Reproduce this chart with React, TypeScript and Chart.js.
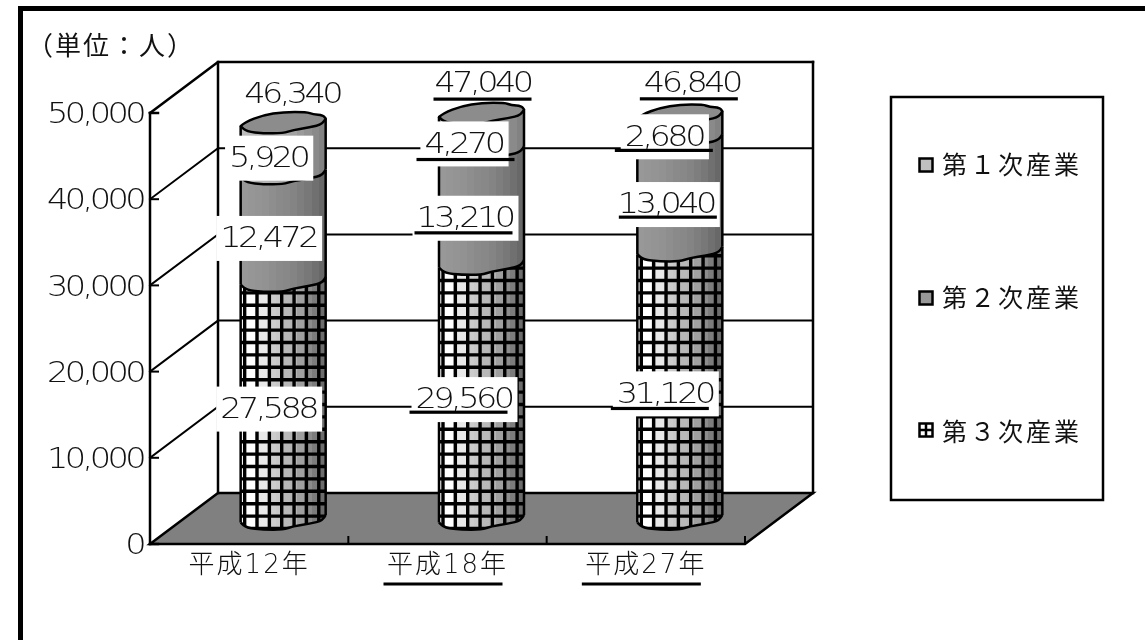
import React, { useEffect, useRef } from "react";
import { Chart, registerables } from "chart.js";

Chart.register(...registerables);

// ---- chart content ----
const categories = ["平成12年", "平成18年", "平成27年"];
const tertiaryValues = [27588, 29560, 31120];
const secondaryValues = [12472, 13210, 13040];
const primaryValues = [5920, 4270, 2680];
const totalLabels = [46340, 47040, 46840];
const tertiaryName = "第３次産業";
const secondaryName = "第２次産業";
const primaryName = "第１次産業";
const unitLabel = "（単位：人）";
const yMax = 50000;
const yStep = 10000;
const underlinedCategories = [false, true, true];

// ---- drawing style ----
const WIDTH = 1145;
const HEIGHT = 640;
const DEPTH_X = 68;
const DEPTH_Y = 51;
const INK = "#111111";
const NUM_FONT = '200 28px "DejaVu Sans Light", "DejaVu Sans", "Noto Sans CJK JP"';
const CAT_FONT_FAMILY = '"DejaVu Sans Light", "DejaVu Sans", "Noto Sans CJK JP"';
const JP_FONT = '"Noto Sans CJK JP", "DejaVu Sans"';
const NUM_STRETCH = 1.2;
const NUM_TRACKING = "-3px";
const NUM_DROP = 3;

// Shading strips of each stack layer, left to right across the cylinder
const tertiaryStrips = ["#ffffff", "#ffffff", "#e8e8e8", "#e8e8e8", "#cccccc", "#c8c8c8", "#b8b8b8", "#b4b4b4", "#a0a0a0", "#8c8c8c", "#7c7c7c", "#6c6c6c"];
const secondaryStrips = ["#989898", "#969696", "#949494", "#929292", "#8e8e8e", "#8a8a8a", "#888888", "#848484", "#7e7e7e", "#787878", "#707070", "#686868"];
const primaryStrips = ["#bcbcbc", "#bababa", "#b6b6b6", "#b4b4b4", "#b0b0b0", "#acacac", "#a8a8a8", "#a2a2a2", "#9a9a9a", "#929292", "#8a8a8a", "#828282"];

// Hand-drawn outline of a cylinder section: unit coordinates around its centre
const outlineUpper: [number, number][] = [[-1, 0.38], [-0.9, 0], [-0.47, -0.66], [0, -0.97], [0.55, -0.97], [0.7, -0.75], [0.94, -0.66], [1, -0.34]];
const outlineLower: [number, number][] = [[1, -0.34], [0.94, 0.19], [0.625, 0.5], [0.23, 0.75], [0, 1.06], [-0.47, 1.06], [-0.86, 0.9], [-1, 0.38]];
const SECTION_RY = 10.5;

// Value label placement relative to its segment: [text dx, text dy, underline dx, underline dy]
const tertiaryLabelPlace = [[-15, 8, null, null], [-18, 7, -5, 14], [-15, 8, -5, 16]];
const secondaryLabelPlace = [[-15, 10, null, null], [-17, 10, -1, 16], [-14, 9, 2, 14]];
const primaryLabelPlace = [[-15, 9, null, null], [-18, 11, 2, 17], [-16, 9, 0, 15]];
const totalLabelPlace = [[9, -29, null, null], [1, -31, 0, 17], [12, -33, -3, 17]];
const UNDERLINE_W = 98;

const fmt = (v: number) => v.toLocaleString("en-US");

function curve(ctx: CanvasRenderingContext2D, pts: [number, number][]) {
  ctx.lineTo(pts[0][0], pts[0][1]);
  for (let i = 1; i < pts.length - 1; i++) {
    const mx = (pts[i][0] + pts[i + 1][0]) / 2;
    const my = (pts[i][1] + pts[i + 1][1]) / 2;
    ctx.quadraticCurveTo(pts[i][0], pts[i][1], mx, my);
  }
  const last = pts[pts.length - 1];
  ctx.lineTo(last[0], last[1]);
}

const place = (unit: [number, number][], cx: number, cy: number, rx: number) =>
  unit.map(([a, b]) => [cx + a * rx, cy + b * SECTION_RY] as [number, number]);

function stripGradient(ctx: CanvasRenderingContext2D, x0: number, x1: number, strips: string[]) {
  const g = ctx.createLinearGradient(x0, 0, x1, 0);
  strips.forEach((c, i) => {
    g.addColorStop(i / strips.length, c);
    g.addColorStop((i + 1) / strips.length, c);
  });
  return g;
}

// Numbers are set wide and tight: stretched sideways around their anchor
function wideNumber(ctx: CanvasRenderingContext2D, text: string, cx: number, cy: number) {
  ctx.save();
  ctx.translate(cx, cy + NUM_DROP);
  ctx.scale(NUM_STRETCH, 1);
  (ctx as any).letterSpacing = NUM_TRACKING;
  ctx.fillText(text, 0, 0);
  ctx.restore();
}

function wideNumberWidth(ctx: CanvasRenderingContext2D, text: string) {
  ctx.save();
  (ctx as any).letterSpacing = NUM_TRACKING;
  const w = ctx.measureText(text).width * NUM_STRETCH;
  ctx.restore();
  return w;
}

function drawSegment(
  ctx: CanvasRenderingContext2D,
  cx: number,
  rx: number,
  yTop: number,
  yBase: number,
  strips: string[],
  latticed: boolean,
  capped: boolean
) {
  ctx.save();
  ctx.beginPath();
  curve(ctx, place(outlineUpper, cx, yTop, rx));
  curve(ctx, [...place(outlineLower, cx, yBase, rx)]);
  ctx.closePath();
  ctx.save();
  ctx.clip();
  ctx.fillStyle = stripGradient(ctx, cx - rx, cx + rx, strips);
  ctx.fillRect(cx - rx - 2, yTop - 20, rx * 2 + 4, yBase - yTop + 40);
  if (latticed) {
    ctx.strokeStyle = "#000";
    ctx.lineWidth = 3.4;
    ctx.beginPath();
    for (let x = cx - rx + 4; x < cx + rx; x += 12.35) {
      ctx.moveTo(x, yTop - 20);
      ctx.lineTo(x, yBase + 20);
    }
    for (let y = yBase + 10; y > yTop - 20; y -= 12.4) {
      ctx.moveTo(cx - rx, y);
      ctx.lineTo(cx + rx, y);
    }
    ctx.stroke();
  }
  ctx.restore();

  ctx.strokeStyle = "#000";
  ctx.lineWidth = 2.5;
  ctx.lineJoin = "round";
  ctx.beginPath();
  ctx.moveTo(cx - rx, yTop + 0.38 * SECTION_RY);
  ctx.lineTo(cx - rx, yBase + 0.38 * SECTION_RY);
  ctx.moveTo(cx + rx, yTop - 0.34 * SECTION_RY);
  ctx.lineTo(cx + rx, yBase - 0.34 * SECTION_RY);
  ctx.stroke();
  ctx.beginPath();
  const low = place(outlineLower, cx, yBase, rx);
  ctx.moveTo(low[0][0], low[0][1]);
  curve(ctx, low);
  ctx.stroke();

  if (capped) {
    ctx.beginPath();
    const up = place(outlineUpper, cx, yTop, rx);
    ctx.moveTo(up[0][0], up[0][1]);
    curve(ctx, up);
    curve(ctx, place(outlineLower, cx, yTop, rx));
    ctx.closePath();
    ctx.fillStyle = "#8c8c8c";
    ctx.fill();
    ctx.stroke();
  }
  ctx.restore();
}

// Box, floor, gridlines and axis ticks of the 3-D frame, all taken from the scales
const framePlugin = {
  id: "frame3d",
  beforeDraw(chart: any) {
    const ctx: CanvasRenderingContext2D = chart.ctx;
    const sx = chart.scales.x;
    const sy = chart.scales.y;
    if (!sx.$styled) {
      const innerX = sx.drawLabels.bind(sx);
      sx.drawLabels = (area: any) => {
        const c = chart.ctx;
        c.save();
        c.letterSpacing = "2px";
        innerX(area);
        c.restore();
      };
      const innerY = sy.drawLabels.bind(sy);
      sy.drawLabels = (area: any) => {
        const c = chart.ctx;
        const edge = sy.right - sy.options.ticks.padding;
        c.save();
        c.translate(edge - 2, NUM_DROP);
        c.scale(NUM_STRETCH, 1);
        c.translate(-edge, 0);
        c.letterSpacing = NUM_TRACKING;
        innerY(area);
        c.restore();
      };
      sx.$styled = true;
    }
    ctx.save();
    ctx.fillStyle = "#000";
    ctx.fillRect(18, 6, WIDTH - 18, 5);
    ctx.fillRect(18, 6, 5, HEIGHT - 6);
    ctx.restore();
  },
  beforeDatasetsDraw(chart: any) {
    const ctx: CanvasRenderingContext2D = chart.ctx;
    const { left, right, top, bottom } = chart.chartArea;
    const sy = chart.scales.y;
    const sx = chart.scales.x;
    ctx.save();
    ctx.lineCap = "square";
    ctx.strokeStyle = "#000";

    // floor
    ctx.beginPath();
    ctx.moveTo(left, bottom);
    ctx.lineTo(right, bottom);
    ctx.lineTo(right + DEPTH_X, bottom - DEPTH_Y);
    ctx.lineTo(left + DEPTH_X, bottom - DEPTH_Y);
    ctx.closePath();
    ctx.fillStyle = "#808080";
    ctx.fill();
    ctx.lineWidth = 2.5;
    ctx.stroke();

    // gridlines run along the side wall and across the back wall
    ctx.lineWidth = 2;
    sy.ticks.forEach((t: any) => {
      const y = sy.getPixelForValue(t.value);
      if (t.value === 0) return;
      ctx.beginPath();
      ctx.moveTo(left, y);
      ctx.lineTo(left + DEPTH_X, y - DEPTH_Y);
      ctx.lineTo(right + DEPTH_X, y - DEPTH_Y);
      ctx.lineWidth = t.value === yMax ? 2.5 : 2;
      ctx.stroke();
      ctx.beginPath();
      ctx.moveTo(left, y);
      ctx.lineTo(left + 8, y);
      ctx.stroke();
    });
    ctx.beginPath();
    ctx.moveTo(left, bottom);
    ctx.lineTo(left + 8, bottom);
    ctx.stroke();

    // wall edges
    ctx.lineWidth = 2.5;
    ctx.beginPath();
    ctx.moveTo(left, top);
    ctx.lineTo(left, bottom);
    ctx.moveTo(left + DEPTH_X, top - DEPTH_Y);
    ctx.lineTo(left + DEPTH_X, bottom - DEPTH_Y);
    ctx.moveTo(right + DEPTH_X, top - DEPTH_Y);
    ctx.lineTo(right + DEPTH_X, bottom - DEPTH_Y);
    ctx.stroke();

    // category separators on the front floor edge
    const band = sx.getPixelForTick(1) - sx.getPixelForTick(0);
    ctx.lineWidth = 2;
    categories.forEach((_, i) => {
      const x = sx.getPixelForTick(i) + band / 2;
      ctx.beginPath();
      ctx.moveTo(x, bottom);
      ctx.lineTo(x, bottom - 7);
      ctx.stroke();
    });
    ctx.restore();
  },
  afterDatasetsDraw(chart: any) {
    const ctx: CanvasRenderingContext2D = chart.ctx;
    const strips = [tertiaryStrips, secondaryStrips, primaryStrips];
    const places = [tertiaryLabelPlace, secondaryLabelPlace, primaryLabelPlace];
    const metas = chart.data.datasets.map((_: any, i: number) => chart.getDatasetMeta(i));

    // cylinders, bottom layer first so each section's rim overlaps the one below
    metas.forEach((meta: any, d: number) => {
      meta.data.forEach((bar: any) => {
        drawSegment(
          ctx,
          bar.x + DEPTH_X / 2,
          bar.width / 2,
          bar.y - DEPTH_Y / 2,
          bar.base - DEPTH_Y / 2,
          strips[d],
          d === 0,
          d === metas.length - 1
        );
      });
    });

    // value labels on white plates
    const line = (x: number, y: number) => {
      ctx.fillStyle = "#000";
      ctx.fillRect(x - UNDERLINE_W / 2, y - 1.5, UNDERLINE_W, 3.2);
    };
    ctx.save();
    ctx.font = NUM_FONT;
    ctx.textBaseline = "middle";
    ctx.textAlign = "center";
    metas.forEach((meta: any, d: number) => {
      meta.data.forEach((bar: any, i: number) => {
        const [dx, dy, ux, uy] = places[d][i] as any[];
        const cx = bar.x + DEPTH_X / 2 + dx;
        const cy = (bar.y + bar.base) / 2 - DEPTH_Y / 2 + dy;
        const text = fmt(chart.data.datasets[d].data[i]);
        const w = wideNumberWidth(ctx, text);
        ctx.fillStyle = "#fff";
        ctx.fillRect(cx - w / 2 - 4, cy - 21, w + 10, 45);
        ctx.fillStyle = INK;
        wideNumber(ctx, text, cx, cy);
        if (ux !== null) line(cx + ux, cy + uy);
      });
    });
    metas[metas.length - 1].data.forEach((bar: any, i: number) => {
      const [dx, dy, ux, uy] = totalLabelPlace[i] as any[];
      const cx = bar.x + DEPTH_X / 2 + dx;
      const cy = bar.y - DEPTH_Y / 2 + dy;
      ctx.fillStyle = INK;
      wideNumber(ctx, fmt(totalLabels[i]), cx, cy);
      if (ux !== null) line(cx + ux, cy + uy);
    });
    ctx.restore();

    // category underlines
    const sx = chart.scales.x;
    ctx.fillStyle = "#000";
    categories.forEach((_, i) => {
      if (underlinedCategories[i]) ctx.fillRect(sx.getPixelForTick(i) - 64, 582.5, 119, 3);
    });

    // unit caption
    ctx.save();
    (ctx as any).letterSpacing = "2px";
    ctx.font = `26px ${JP_FONT}`;
    ctx.fillStyle = INK;
    ctx.textBaseline = "middle";
    ctx.textAlign = "left";
    ctx.fillText(unitLabel, 27, 45);
    ctx.restore();

    // legend panel, listed top layer first
    ctx.save();
    ctx.strokeStyle = "#000";
    ctx.lineWidth = 2.5;
    ctx.strokeRect(891, 97, 212, 403);
    const order = [2, 1, 0];
    const keyRows = [165.5, 298.5, 430.5];
    const textRows = [164, 297, 431];
    order.forEach((d, row) => {
      const y = keyRows[row];
      const ds = chart.data.datasets[d];
      ctx.fillStyle = d === 2 ? "#c0c0c0" : d === 1 ? "#989898" : "#ffffff";
      ctx.fillRect(919.5, y - 7, 13, 13);
      ctx.strokeStyle = "#000";
      ctx.lineWidth = 2.5;
      ctx.strokeRect(919.5, y - 7, 13, 13);
      if (d === 0) {
        ctx.lineWidth = 2.5;
        ctx.beginPath();
        ctx.moveTo(926, y - 7);
        ctx.lineTo(926, y + 6);
        ctx.moveTo(919.5, y - 0.5);
        ctx.lineTo(932.5, y - 0.5);
        ctx.stroke();
      }
      (ctx as any).letterSpacing = "3px";
      ctx.font = `25px ${JP_FONT}`;
      ctx.fillStyle = INK;
      ctx.textBaseline = "middle";
      ctx.textAlign = "left";
      ctx.fillText(ds.label, 942, textRows[row]);
    });
    ctx.restore();
  },
};

export default function App() {
  const ref = useRef<HTMLCanvasElement>(null);

  useEffect(() => {
    document.body.style.margin = "0";
    const chart = new Chart(ref.current!, {
      type: "bar",
      data: {
        labels: categories,
        datasets: [
          { label: tertiaryName, data: tertiaryValues, backgroundColor: "transparent" },
          { label: secondaryName, data: secondaryValues, backgroundColor: "transparent" },
          { label: primaryName, data: primaryValues, backgroundColor: "transparent" },
        ],
      },
      options: {
        responsive: false,
        animation: false,
        layout: { padding: { left: 0, top: 113, right: 400, bottom: 0 } },
        datasets: { bar: { barPercentage: 0.4286, categoryPercentage: 1 } },
        plugins: { legend: { display: false }, tooltip: { enabled: false } },
        scales: {
          x: {
            stacked: true,
            grid: { display: false, drawTicks: false },
            border: { display: false },
            afterFit: (s: any) => {
              s.height = 96;
            },
            ticks: {
              color: INK,
              padding: 7,
              maxRotation: 0,
              autoSkip: false,
              font: { family: CAT_FONT_FAMILY, size: 26, weight: "200" },
            },
          },
          y: {
            stacked: true,
            min: 0,
            max: yMax,
            grid: { display: false, drawTicks: false },
            border: { display: false },
            afterFit: (s: any) => {
              s.width = 150;
            },
            ticks: {
              stepSize: yStep,
              color: INK,
              padding: 5,
              font: { family: CAT_FONT_FAMILY, size: 28, weight: "200" },
              callback: (v: any) => fmt(Number(v)),
            },
          },
        },
      },
      plugins: [framePlugin],
    } as any);
    chart.draw();
    return () => chart.destroy();
  }, []);

  return (
    <div style={{ position: "absolute", left: 0, top: 0, width: WIDTH, height: HEIGHT }}>
      <canvas ref={ref} width={WIDTH} height={HEIGHT} style={{ display: "block" }} />
    </div>
  );
}
